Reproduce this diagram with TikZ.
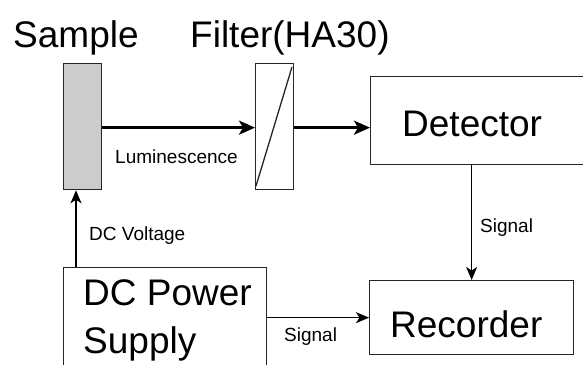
\documentclass[tikz,border=0pt]{standalone}
\usepackage{fontspec}
\setmainfont{Liberation Sans}
\usetikzlibrary{arrows.meta,calc}
\begin{document}
\begin{tikzpicture}[x=1pt,y=-1pt,
  box/.style={draw=black!85, line width=1.3pt, inner sep=0pt, anchor=north west},
  big/.style={font=\fontsize{37}{40}\selectfont, inner sep=0pt, anchor=base west},
  small/.style={font=\fontsize{19}{22}\selectfont, inner sep=0pt, anchor=base west},
  thickarrow/.style={line width=2.8pt, -{Stealth[length=16pt,width=14pt,inset=4pt]}},
  thinarrow/.style={line width=1.4pt, -{Stealth[length=13pt,width=11pt,inset=3.5pt]}}]
\useasboundingbox (0,0) rectangle (583,364);
\fill[white] (0,0) rectangle (583,364);
\clip (0,0) rectangle (583,364);
% boxes
\node[box, fill=black!20, minimum width=38pt, minimum height=126pt] (sample) at (63,63) {};
\node[box, minimum width=38pt, minimum height=126pt] (filter) at (255,63) {};
\draw[line width=1.3pt, black!85] (256,186) -- (292,67);
\node[box, minimum width=225pt, minimum height=88pt] (detector) at (370,76) {};
\node[box, minimum width=204pt, minimum height=74pt] (recorder) at (369,280) {};
\node[box, minimum width=203pt, minimum height=120pt] (psu) at (63,267) {};
% texts
\node[big] (tsample) at (13,47) {Sample};
\node[big] (tfilter) at (190,47) {Filter(HA30)};
\node[big] (tdet) at (402,136) {Detector};
\node[big] (trec) at (390,337) {Recorder};
\node[big] (tdc) at (83,305) {DC Power};
\node[big] (tsup) at (83,353) {Supply};
\node[small] (tlum) at (115,163) {Luminescence};
\node[small] (tvolt) at (89,240) {DC Voltage};
\node[small] (tsig1) at (480,232) {Signal};
\node[small] (tsig2) at (284,341) {Signal};
% connectors
\draw[thickarrow] ([yshift=-1pt]sample.east) -- ([yshift=-1pt]filter.west);
\draw[thickarrow] ([yshift=-1pt]filter.east) -- ([yshift=-1pt]filter.east -| detector.west);
\draw[thinarrow] (psu.north -| 76,0) -- (sample.south -| 76,0);
\draw[thinarrow] (detector.south -| recorder.north) -- (recorder.north);
\draw[thinarrow] (psu.east |- recorder.west) -- (recorder.west);
\end{tikzpicture}
\end{document}
